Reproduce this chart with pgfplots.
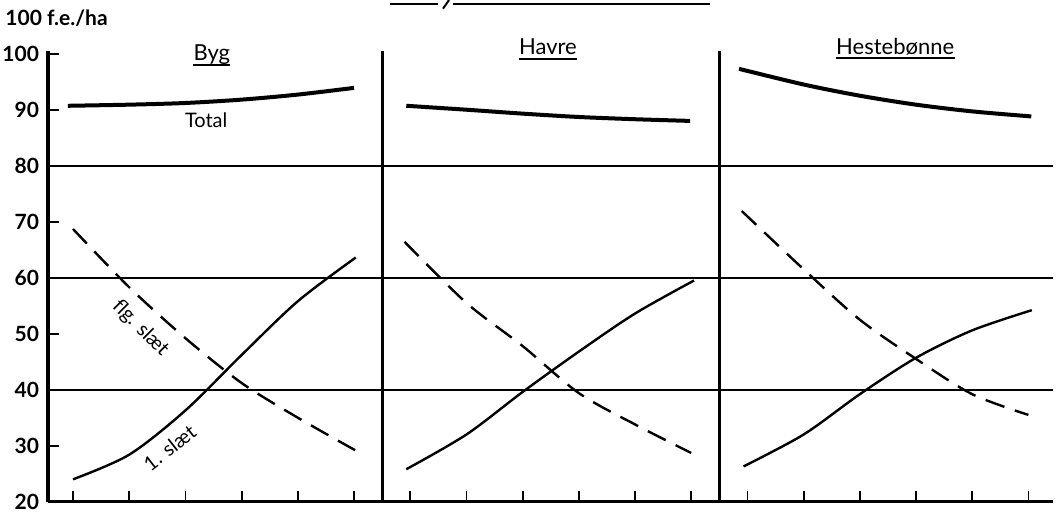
\documentclass[border=0pt]{standalone}
\usepackage{fontspec}
\setmainfont{Lato}
\usepackage{pgfplots}
\pgfplotsset{compat=1.18}
\begin{document}
\begin{tikzpicture}
\useasboundingbox (-24pt,-4.65pt) rectangle (507.5pt,250.85pt);
\begin{axis}[
  at={(0pt,0pt)}, anchor=south west,
  x=28.1pt, y=2.8pt,
  xmin=-0.445, xmax=17.44, ymin=20, ymax=100.5,
  axis x line*=bottom, axis y line*=left,
  axis line style={line width=1.6pt, -},
  xtick={0,1,2,3,4,5,6,7,8,9,10,11,12,13,14,15,16,17},
  xticklabels={},
  ytick={20,30,...,100},
  tick align=inside,
  major tick length=5.5pt,
  tick style={black, line width=0.9pt},
  yticklabel style={font=\bfseries\fontsize{10.5}{12}\selectfont, anchor=east, xshift=-1pt},
  /pgf/number format/assume math mode=true,
  extra y ticks={40,60,80},
  extra y tick labels={},
  extra y tick style={grid=major, major grid style={black,line width=0.9pt}},
  extra x ticks={5.5,11.5},
  extra x tick labels={},
  extra x tick style={grid=major, major grid style={black,line width=1.6pt}, major tick length=0pt},
  clip=false,
]
% Byg
\addplot[black, line width=2pt, smooth] coordinates {(-0.09,90.7) (1,90.9) (2,91.2) (3,91.8) (4,92.7) (5,93.9)};
\addplot[black, line width=1.2pt, smooth] coordinates {(0,24.0) (1,28.4) (2,36.3) (3,46.2) (4,55.8) (5.03,63.6)};
\addplot[black, line width=1.2pt, smooth, dash pattern=on 10pt off 5.5pt] coordinates {(0,68.7) (1,58.3) (2,49.2) (3,41.2) (4,35.0) (5.02,29.2)};
% Havre
\addplot[black, line width=2pt, smooth] coordinates {(5.93,90.7) (7,90.0) (8,89.3) (9,88.7) (10,88.3) (10.98,88.0)};
\addplot[black, line width=1.2pt, smooth] coordinates {(5.93,25.8) (7,32.0) (8,39.6) (9,46.8) (10,53.6) (11.05,59.5)};
\addplot[black, line width=1.2pt, smooth, dash pattern=on 10pt off 5.5pt] coordinates {(5.9,66.4) (7,55.5) (8,47.8) (9,39.4) (10,33.8) (11,28.7)};
% Hestebønne
\addplot[black, line width=2pt, smooth] coordinates {(11.85,97.3) (13,94.5) (14,92.5) (15,90.9) (16,89.7) (17.05,88.8)};
\addplot[black, line width=1.2pt, smooth] coordinates {(11.93,26.3) (13,32.0) (14,39.2) (15,45.7) (16,50.6) (17.06,54.2)};
\addplot[black, line width=1.2pt, smooth, dash pattern=on 10pt off 5.5pt] coordinates {(11.9,71.9) (13,61.5) (14,52.5) (15,45.5) (16,39.2) (17,35.5)};

\node[font=\fontsize{10}{12}\selectfont] at (axis cs:2.37,88.2) {Total};
\node[font=\fontsize{10}{12}\selectfont, rotate=-45, inner sep=0pt] at (axis cs:1.2,51.0) {flg. slæt};
\node[font=\fontsize{10}{12}\selectfont, rotate=38, inner sep=0pt] at (axis cs:1.72,29.6) {1. slæt};

\node[anchor=base, inner sep=0pt, font=\fontsize{11}{13}\selectfont] (t1) at (axis cs:2.47,98.7) {Byg};
\draw[line width=1pt] ([yshift=-1.8pt]t1.base west) -- ([yshift=-1.8pt]t1.base east);
\node[anchor=base, inner sep=0pt, font=\fontsize{11}{13}\selectfont] (t2) at (axis cs:8.45,99.8) {Havre};
\draw[line width=1pt] ([yshift=-2.2pt]t2.base west) -- ([yshift=-2.2pt]t2.base east);
\node[anchor=base, inner sep=0pt, font=\fontsize{11}{13}\selectfont] (t3) at (axis cs:14.63,99.8) {Hestebønne};
\draw[line width=1pt] ([yshift=-1.6pt]t3.base west) -- ([yshift=-1.6pt]t3.base east);
\end{axis}
\node[anchor=west, inner sep=0pt, font=\bfseries\fontsize{10.5}{12}\selectfont] at (-21.5pt,241.85pt) {100 f.e./ha};
\draw[line width=1pt] (171pt,248.85pt) -- (195pt,248.85pt);
\draw[line width=1pt] (197.5pt,246.5pt) -- (200.5pt,250.85pt);
\draw[line width=1pt] (202.5pt,248.85pt) -- (331pt,248.85pt);
\end{tikzpicture}
\end{document}
